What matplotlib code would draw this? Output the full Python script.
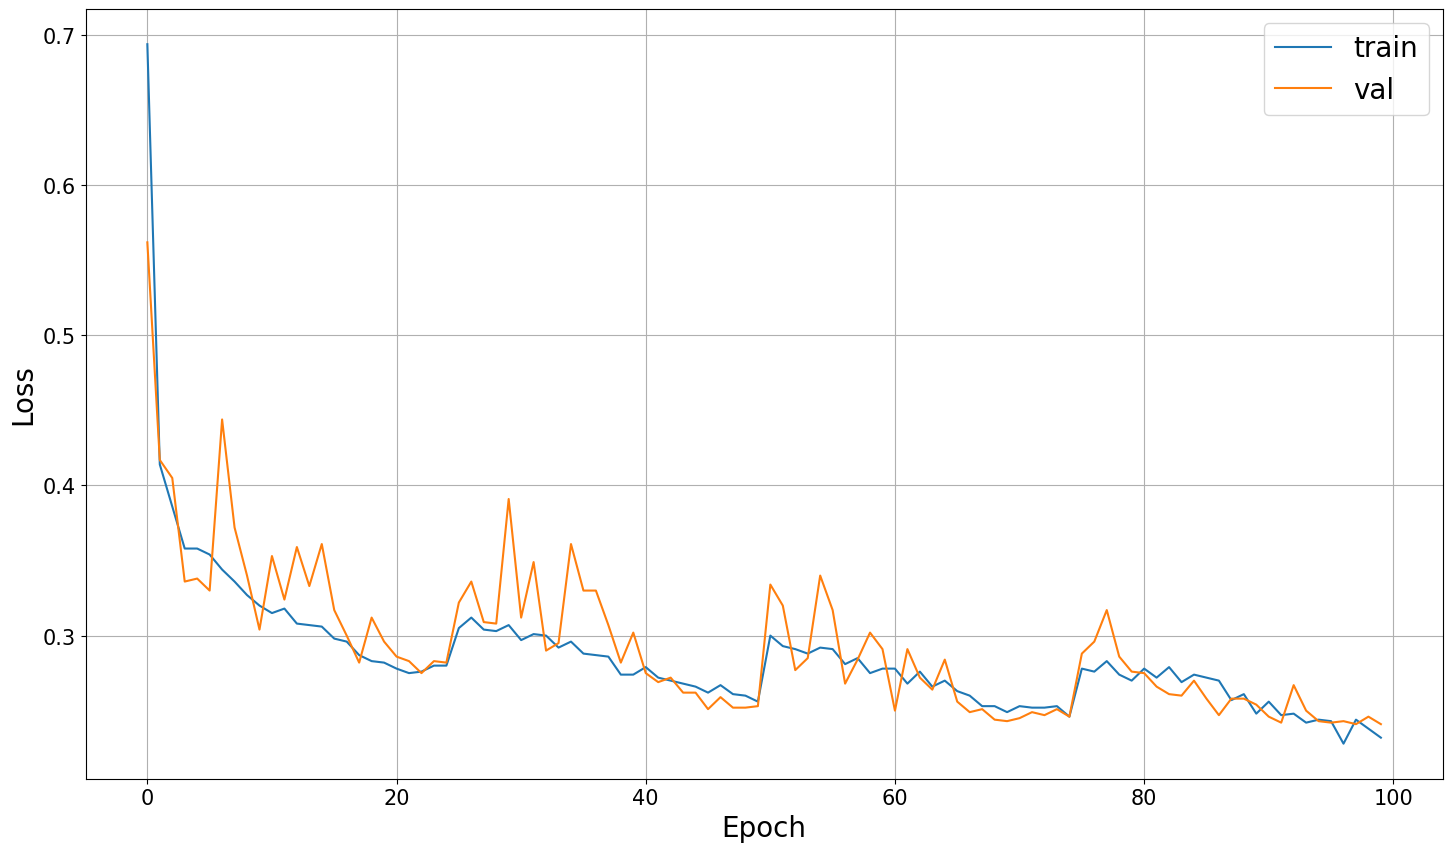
import numpy as np
import matplotlib
matplotlib.use('Agg')
import matplotlib.pyplot as plt

# Loss values per epoch
train_loss = [0.694, 0.414, 0.386, 0.358, 0.358, 0.354, 0.344, 0.336, 0.327, 0.320,
              0.315, 0.318, 0.308, 0.307, 0.306, 0.298, 0.296, 0.287, 0.283, 0.282,
              0.278, 0.275, 0.276, 0.280, 0.280, 0.305, 0.312, 0.304, 0.303, 0.307,
              0.297, 0.301, 0.300, 0.292, 0.296, 0.288, 0.287, 0.286, 0.274, 0.274,
              0.279, 0.272, 0.270, 0.268, 0.266, 0.262, 0.267, 0.261, 0.260, 0.256,
              0.300, 0.293, 0.291, 0.288, 0.292, 0.291, 0.281, 0.285, 0.275, 0.278,
              0.278, 0.268, 0.276, 0.266, 0.270, 0.263, 0.260, 0.253, 0.253, 0.249,
              0.253, 0.252, 0.252, 0.253, 0.246, 0.278, 0.276, 0.283, 0.274, 0.270,
              0.278, 0.272, 0.279, 0.269, 0.274, 0.272, 0.270, 0.257, 0.261, 0.248,
              0.256, 0.247, 0.248, 0.242, 0.244, 0.243, 0.228, 0.244, 0.238, 0.232]

val_loss = [0.562, 0.417, 0.405, 0.336, 0.338, 0.330, 0.444, 0.372, 0.340, 0.304,
            0.353, 0.324, 0.359, 0.333, 0.361, 0.317, 0.300, 0.282, 0.312, 0.296,
            0.286, 0.283, 0.275, 0.283, 0.282, 0.322, 0.336, 0.309, 0.308, 0.391,
            0.312, 0.349, 0.290, 0.295, 0.361, 0.330, 0.330, 0.307, 0.282, 0.302,
            0.275, 0.269, 0.272, 0.262, 0.262, 0.251, 0.259, 0.252, 0.252, 0.253,
            0.334, 0.320, 0.277, 0.285, 0.340, 0.317, 0.268, 0.284, 0.302, 0.291,
            0.250, 0.291, 0.272, 0.264, 0.284, 0.256, 0.249, 0.251, 0.244, 0.243,
            0.245, 0.249, 0.247, 0.251, 0.246, 0.288, 0.296, 0.317, 0.286, 0.276,
            0.275, 0.266, 0.261, 0.260, 0.270, 0.258, 0.247, 0.258, 0.258, 0.254,
            0.246, 0.242, 0.267, 0.250, 0.243, 0.242, 0.243, 0.241, 0.246, 0.241]

epochs = np.arange(len(train_loss))

fig, ax = plt.subplots(figsize=(14.52, 8.53), dpi=100)
ax.plot(epochs, train_loss, label='train')
ax.plot(epochs, val_loss, label='val')

ax.set_xlabel('Epoch', fontsize=20)
ax.set_ylabel('Loss', fontsize=20)
ax.tick_params(labelsize=15)
ax.grid(True)
ax.legend(fontsize=20)

fig.subplots_adjust(left=0.059, right=0.9935, top=0.988, bottom=0.086)
fig.savefig('out.png', dpi=100)
